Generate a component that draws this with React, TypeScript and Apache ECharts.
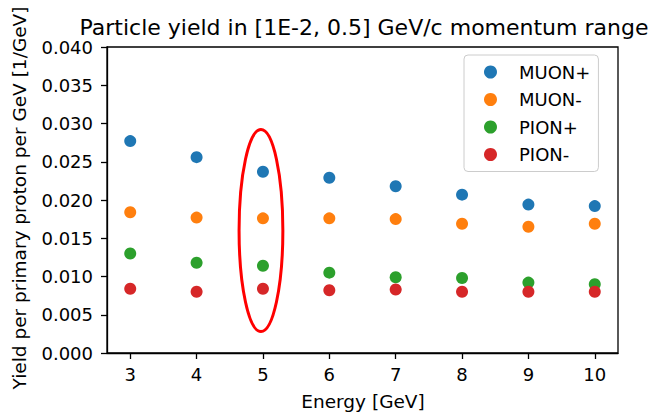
import React, { useEffect, useRef } from "react";
import * as echarts from "echarts";

const energies = [3, 4, 5, 6, 7, 8, 9, 10];
const muonPlus = [0.0277, 0.0256, 0.0237, 0.0229, 0.0218, 0.0207, 0.0194, 0.0192];
const muonMinus = [0.0184, 0.0177, 0.0176, 0.0176, 0.0175, 0.0169, 0.0165, 0.0169];
const pionPlus = [0.013, 0.0118, 0.0114, 0.0105, 0.0099, 0.0098, 0.0092, 0.009];
const pionMinus = [0.0084, 0.008, 0.0084, 0.0082, 0.0083, 0.008, 0.008, 0.008];
const seriesNames = ["MUON+", "MUON-", "PION+", "PION-"];
const seriesColors = ["#1f77b4", "#ff7f0e", "#2ca02c", "#d62728"];
const xTicks = [3, 4, 5, 6, 7, 8, 9, 10];
// highlight ellipse around the 5 GeV points: [centerX, centerY, radiusX, radiusY] in data units
const highlight = [4.97, 0.016, 0.33, 0.0132];

const FONT = "DejaVu Sans";

export default function App() {
  const ref = useRef<HTMLDivElement>(null);
  useEffect(() => {
    if (!ref.current) return;
    const chart = echarts.init(ref.current, null, { renderer: "svg" });
    const values = [muonPlus, muonMinus, pionPlus, pionMinus];
    const scatter = values.map((vals, i) => ({
      name: seriesNames[i],
      type: "scatter",
      symbol: "circle",
      symbolSize: 12,
      itemStyle: { color: seriesColors[i], opacity: 1 },
      data: energies.map((e, j) => [e, vals[j]]),
      z: 3 + i,
    }));
    chart.setOption({
      animation: false,
      backgroundColor: "#ffffff",
      title: {
        text: "Particle yield in [1E-2, 0.5] GeV/c momentum range",
        left: 364,
        top: 14,
        textAlign: "center",
        padding: 0,
        textStyle: {
          fontFamily: FONT,
          fontSize: 22,
          fontWeight: "normal",
          color: "#000",
          lineHeight: 26,
        },
      },
      grid: {
        left: 107,
        right: 39,
        top: 47,
        bottom: 59,
        show: true,
        borderColor: "#000",
        borderWidth: 1.3,
        containLabel: false,
      },
      legend: {
        data: seriesNames,
        orient: "vertical",
        left: 464,
        top: 55,
        padding: [7, 8, 7, 20],
        itemWidth: 13,
        itemHeight: 13,
        itemGap: 7.5,
        icon: "circle",
        borderColor: "#cccccc",
        borderWidth: 1,
        borderRadius: 4,
        backgroundColor: "rgba(255,255,255,0.8)",
        textStyle: {
          fontFamily: FONT,
          fontSize: 18,
          color: "#000",
          lineHeight: 20,
          padding: [0, 0, 0, 17],
        },
      },
      xAxis: {
        type: "value",
        min: 2.65,
        max: 10.35,
        splitLine: { show: false },
        axisLine: { show: true, onZero: false, lineStyle: { color: "#000", width: 1.3 } },
        axisTick: {
          show: true,
          length: 6,
          customValues: xTicks,
          lineStyle: { color: "#000", width: 1.3 },
        },
        axisLabel: {
          customValues: xTicks,
          margin: 12,
          fontFamily: FONT,
          fontSize: 18,
          color: "#000",
          showMinLabel: true,
          showMaxLabel: true,
        },
      },
      yAxis: {
        type: "value",
        min: 0,
        max: 0.04,
        interval: 0.005,
        splitLine: { show: false },
        axisLine: { show: true, onZero: false, lineStyle: { color: "#000", width: 1.3 } },
        axisTick: { show: true, length: 6, lineStyle: { color: "#000", width: 1.3 } },
        axisLabel: {
          margin: 14,
          fontFamily: FONT,
          fontSize: 18,
          color: "#000",
          formatter: (v: number) => v.toFixed(3),
        },
      },
      graphic: [
        {
          type: "text",
          x: 363,
          y: 401,
          style: {
            text: "Energy [GeV]",
            fontFamily: FONT,
            fontSize: 18.5,
            fill: "#000",
            textAlign: "center",
            textVerticalAlign: "middle",
          },
        },
        {
          type: "text",
          x: 19,
          y: 198,
          rotation: Math.PI / 2,
          style: {
            text: "Yield per primary proton per GeV [1/GeV]",
            fontFamily: FONT,
            fontSize: 18.5,
            fill: "#000",
            textAlign: "center",
            textVerticalAlign: "middle",
          },
        },
      ],
      series: [
        ...scatter,
        {
          name: "highlight",
          type: "custom",
          clip: false,
          silent: true,
          z: 10,
          data: [highlight],
          renderItem: (params: any, api: any) => {
            const c = api.coord([api.value(0), api.value(1)]);
            const e = api.coord([api.value(0) + api.value(2), api.value(1) + api.value(3)]);
            return {
              type: "ellipse",
              shape: {
                cx: c[0],
                cy: c[1],
                rx: Math.abs(e[0] - c[0]),
                ry: Math.abs(e[1] - c[1]),
              },
              style: { fill: "none", stroke: "#ff0000", lineWidth: 3 },
            };
          },
        },
      ],
    });
    return () => chart.dispose();
  }, []);
  return (
    <div
      ref={ref}
      style={{ position: "fixed", left: 0, top: 0, width: 657, height: 412 }}
    />
  );
}
